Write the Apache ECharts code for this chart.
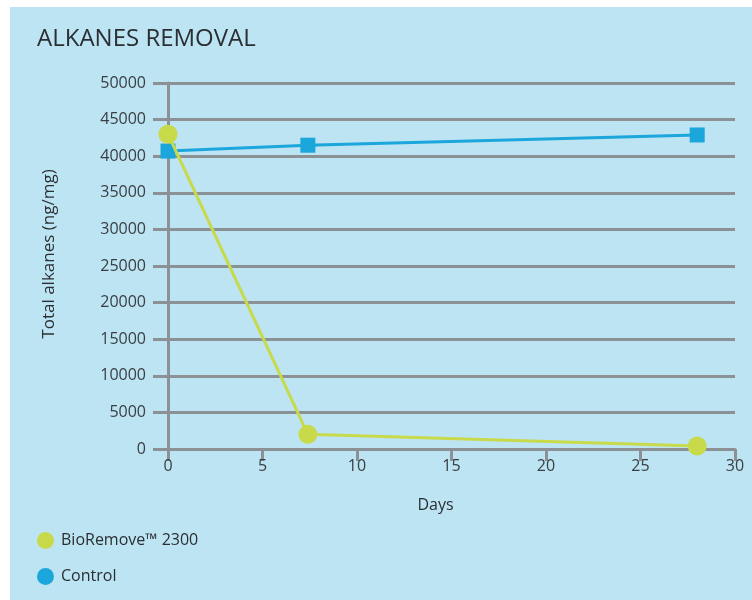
<!DOCTYPE html>
<html>
<head>
<meta charset="utf-8">
<script src="https://cdn.jsdelivr.net/npm/echarts@6/dist/echarts.min.js"></script>
<style>
  html, body { margin: 0; padding: 0; background: #ffffff; }
  #chart { position: absolute; left: 10px; top: 7px; width: 742px; height: 593px; }
</style>
</head>
<body>
<div id="chart"></div>
<script>
// data
const bioDays = [0, 7.4, 28];
const bioValues = [43000, 2000, 400];
const controlDays = [0, 7.4, 28];
const controlValues = [40700, 41500, 42900];
const yTicks = [0, 50000, 5000]; // min, max, step
const xTicks = [0, 30, 5];

const textFont = "'Open Sans', sans-serif";
const axisGray = "#8c9196";

const chart = echarts.init(document.getElementById("chart"));

const option = {
  backgroundColor: "#bce4f2",
  animation: false,
  title: {
    text: "ALKANES REMOVAL",
    left: 22,
    top: 15,
    textStyle: { fontFamily: textFont, fontSize: 24, fontWeight: "normal", color: "#2b2f33" }
  },
  legend: {
    orient: "vertical",
    left: 22,
    top: 520,
    icon: "circle",
    itemWidth: 17,
    itemHeight: 17,
    itemGap: 19,
    textStyle: { fontFamily: textFont, fontSize: 16, color: "#2b2f33", padding: [0, 0, 0, 2] },
    data: ["BioRemove™ 2300", "Control"]
  },
  grid: { left: 158, right: 17, top: 76, bottom: 151 },
  xAxis: {
    type: "value",
    min: xTicks[0],
    max: xTicks[1],
    interval: xTicks[2],
    name: "Days",
    nameLocation: "middle",
    nameGap: 48,
    nameTextStyle: { fontFamily: textFont, fontSize: 16, color: "#2b2f33", padding: [0, 32, 0, 0] },
    axisLine: { show: true, lineStyle: { color: axisGray, width: 3 } },
    axisTick: { show: true, length: 12, lineStyle: { color: axisGray, width: 3 } },
    axisLabel: { fontFamily: textFont, fontSize: 16, color: "#3a3e42", margin: 9 },
    splitLine: { show: false }
  },
  yAxis: {
    type: "value",
    min: yTicks[0],
    max: yTicks[1],
    interval: yTicks[2],
    name: "Total alkanes (ng/mg)",
    nameLocation: "middle",
    nameRotate: 90,
    nameGap: 110,
    nameTextStyle: { fontFamily: textFont, fontSize: 17, color: "#2b2f33", padding: [0, 0, 0, 24] },
    axisLine: { show: true, lineStyle: { color: axisGray, width: 3 } },
    axisTick: { show: true, length: 15, lineStyle: { color: axisGray, width: 3 } },
    axisLabel: { fontFamily: textFont, fontSize: 16, color: "#3a3e42", margin: 22, formatter: v => String(v) },
    splitLine: { show: true, lineStyle: { color: axisGray, width: 3 } }
  },
  series: [
    {
      name: "Control",
      type: "line",
      data: controlDays.map((d, i) => [d, controlValues[i]]),
      symbol: "rect",
      symbolSize: 15,
      lineStyle: { width: 3, color: "#1ba6dc" },
      itemStyle: { color: "#1ba6dc" },
      z: 2
    },
    {
      name: "BioRemove™ 2300",
      type: "line",
      data: bioDays.map((d, i) => [d, bioValues[i]]),
      symbol: "circle",
      symbolSize: 19,
      lineStyle: { width: 3, color: "#c8d94a" },
      itemStyle: { color: "#c8d94a" },
      z: 3
    }
  ]
};

chart.setOption(option);
</script>
</body>
</html>
